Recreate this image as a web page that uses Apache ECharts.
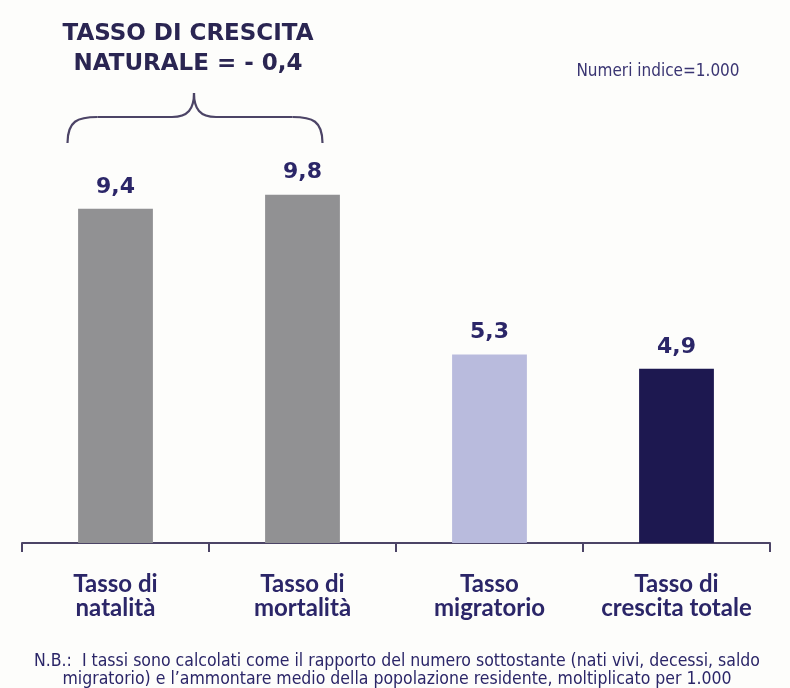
<!DOCTYPE html>
<html>
<head>
<meta charset="utf-8">
<script src="https://cdn.jsdelivr.net/npm/echarts@6/dist/echarts.min.js"></script>
<style>
  html, body { margin: 0; padding: 0; background: #fdfdfb; }
  #chart { width: 790px; height: 688px; }
</style>
</head>
<body>
<div id="chart"></div>
<script>
// Tassi demografici (per 1.000 abitanti)
const categories = ['Tasso di\nnatalità', 'Tasso di\nmortalità', 'Tasso\nmigratorio', 'Tasso di\ncrescita totale'];
const values = [9.4, 9.8, 5.3, 4.9];
const barColors = ['#919193', '#919193', '#b9bbdd', '#1d1850'];
const naturalGrowth = -0.4;

const ink = '#2b2668';
const lineColor = '#4c4466';
const chart = echarts.init(document.getElementById('chart'), null, { renderer: 'canvas' });

const fmt = v => (v < 0 ? '- ' : '') + Math.abs(v).toFixed(1).replace('.', ',');

chart.setOption({
  backgroundColor: '#fdfdfb',
  animation: false,
  grid: { left: 22, right: 20, top: 152, bottom: 145 },
  xAxis: {
    type: 'category',
    data: categories,
    axisLine: { lineStyle: { color: lineColor, width: 2 } },
    axisTick: { show: true, interval: 0, length: 9, lineStyle: { color: lineColor, width: 2 } },
    axisLabel: {
      interval: 0,
      hideOverlap: false,
      margin: 29,
      color: ink,
      fontFamily: 'Lato',
      fontWeight: 'bold',
      fontSize: 24,
      lineHeight: 24
    }
  },
  yAxis: { type: 'value', min: 0, max: 11, show: false, splitLine: { show: false } },
  series: [{
    type: 'bar',
    barWidth: '40%',
    data: values.map((v, i) => ({ value: v, itemStyle: { color: barColors[i] } })),
    label: {
      show: true,
      position: 'top',
      distance: 11,
      color: ink,
      fontFamily: 'DejaVu Sans',
      fontWeight: 'bold',
      fontSize: 22,
      formatter: p => fmt(p.value)
    }
  }]
});

// Graffa sopra le prime due barre con il tasso di crescita naturale
function drawAnnotations() {
  const p0 = chart.convertToPixel({ seriesIndex: 0 }, [0, values[0]]);
  const p1 = chart.convertToPixel({ seriesIndex: 0 }, [1, values[1]]);
  const x0 = p0[0] - 48, x1 = p1[0] + 20;
  const xm = (p0[0] + p1[0]) / 2 - 15;
  const yEnd = 143, yMid = 117, yTip = 93;
  const stroke = { fill: null, stroke: lineColor, lineWidth: 2.2 };

  const curve = (a, b, c1, c2) => ({
    type: 'bezierCurve',
    shape: { x1: a[0], y1: a[1], x2: b[0], y2: b[1], cpx1: c1[0], cpy1: c1[1], cpx2: c2[0], cpy2: c2[1] },
    style: stroke
  });
  const seg = (a, b) => ({
    type: 'line',
    shape: { x1: a[0], y1: a[1], x2: b[0], y2: b[1] },
    style: stroke
  });

  const brace = [
    curve([x0, yEnd], [x0 + 30, yMid], [x0, yMid + 4], [x0 + 10, yMid]),
    seg([x0 + 30, yMid], [xm - 22, yMid]),
    curve([xm - 22, yMid], [xm, yTip], [xm - 6, yMid], [xm, yMid - 8]),
    curve([xm, yTip], [xm + 22, yMid], [xm, yMid - 8], [xm + 6, yMid]),
    seg([xm + 22, yMid], [x1 - 30, yMid]),
    curve([x1 - 30, yMid], [x1, yEnd], [x1 - 10, yMid], [x1, yMid + 4])
  ];

  chart.setOption({
    graphic: brace.concat([
      {
        type: 'text',
        x: xm - 6, y: 19,
        style: {
          text: 'TASSO DI CRESCITA\nNATURALE = ' + fmt(naturalGrowth),
          textAlign: 'center',
          fill: '#2a2552',
          font: 'bold 23px "DejaVu Sans"',
          lineHeight: 30
        }
      },
      {
        type: 'text',
        x: 658, y: 63,
        style: {
          text: 'Numeri indice=1.000',
          textAlign: 'center',
          fill: '#3a3572',
          font: '17px "DejaVu Sans Condensed", "DejaVu Sans"'
        }
      },
      {
        type: 'text',
        x: 397, y: 652,
        style: {
          text: 'N.B.:  I tassi sono calcolati come il rapporto del numero sottostante (nati vivi, decessi, saldo\nmigratorio) e l\u2019ammontare medio della popolazione residente, moltiplicato per 1.000',
          textAlign: 'center',
          fill: ink,
          font: '17.5px "DejaVu Sans Condensed", "DejaVu Sans"',
          lineHeight: 18
        }
      }
    ])
  });
}
drawAnnotations();
</script>
</body>
</html>
